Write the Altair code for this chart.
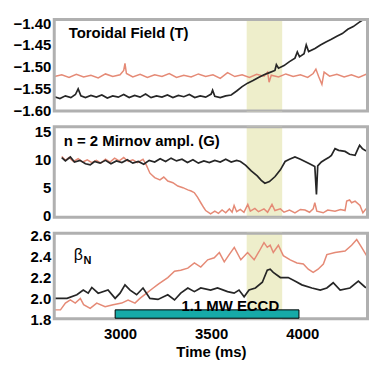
import altair as alt
import pandas as pd

FONT = "Liberation Sans"
X_DOMAIN = [2636, 4361]
W = 316

# ---------------- data ----------------
band_t = [3695, 3890]
eccd_t = [2973, 3982]
eccd_b = [1.81, 1.89]

bt_red_t = [2640, 2680, 2720, 2760, 2800, 2840, 2880, 2920, 2960, 3000, 3020, 3027, 3035, 3070, 3110,
            3150, 3190, 3230, 3270, 3310, 3350, 3390, 3430, 3470, 3510, 3550, 3590, 3630, 3670, 3710,
            3750, 3790, 3810, 3818, 3830, 3870, 3910, 3950, 3990, 4030, 4060, 4075, 4090, 4108, 4120,
            4150, 4190, 4230, 4270, 4310, 4350, 4380, 4395, 4404]
bt_red_v = [-1.522, -1.518, -1.524, -1.517, -1.523, -1.519, -1.525, -1.516, -1.522, -1.518, -1.508, -1.492,
            -1.515, -1.523, -1.517, -1.524, -1.518, -1.522, -1.515, -1.524, -1.519, -1.523, -1.516, -1.522,
            -1.518, -1.526, -1.513, -1.522, -1.518, -1.524, -1.517, -1.521, -1.512, -1.535, -1.519, -1.523,
            -1.516, -1.522, -1.518, -1.524, -1.515, -1.505, -1.522, -1.540, -1.512, -1.521, -1.517, -1.523,
            -1.518, -1.524, -1.517, -1.522, -1.510, -1.528]

bt_blk_t = [2640, 2670, 2700, 2730, 2755, 2770, 2785, 2810, 2840, 2870, 2900, 2930, 2960, 2990, 3020,
            3050, 3080, 3110, 3140, 3170, 3200, 3230, 3260, 3290, 3320, 3350, 3380, 3410, 3440, 3470,
            3500, 3508, 3520, 3550, 3580, 3610, 3640, 3670, 3700, 3730, 3760, 3790, 3820, 3850, 3858,
            3870, 3900, 3930, 3960, 3973, 3985, 4010, 4022, 4035, 4070, 4100, 4130, 4160, 4190, 4220,
            4250, 4280, 4310, 4335]
bt_blk_v = [-1.568, -1.572, -1.566, -1.570, -1.563, -1.550, -1.566, -1.570, -1.565, -1.569, -1.564, -1.571,
            -1.566, -1.569, -1.563, -1.570, -1.565, -1.569, -1.562, -1.570, -1.566, -1.569, -1.564, -1.570,
            -1.565, -1.568, -1.563, -1.570, -1.566, -1.569, -1.562, -1.553, -1.567, -1.570, -1.566, -1.564,
            -1.555, -1.545, -1.537, -1.531, -1.524, -1.518, -1.513, -1.508, -1.495, -1.503, -1.497, -1.488,
            -1.480, -1.466, -1.477, -1.470, -1.450, -1.465, -1.458, -1.450, -1.443, -1.437, -1.430, -1.424,
            -1.414, -1.408, -1.399, -1.392]

mir_blk_t = [2680, 2700, 2727, 2750, 2780, 2810, 2836, 2860, 2890, 2920, 2950, 2980, 3010, 3040, 3070,
             3100, 3130, 3160, 3190, 3220, 3250, 3280, 3310, 3340, 3370, 3400, 3430, 3460, 3490, 3520,
             3550, 3580, 3610, 3640, 3661, 3690, 3720, 3753, 3775, 3795, 3820, 3851, 3880, 3906, 3930,
             3960, 3990, 4015, 4040, 4069, 4078, 4085, 4105, 4124, 4145, 4160, 4180, 4200, 4235, 4260,
             4290, 4305, 4315, 4330, 4344, 4365, 4380, 4390, 4400]
mir_blk_v = [10.4, 9.8, 10.5, 9.6, 9.9, 9.3, 9.1, 9.7, 9.4, 9.9, 9.3, 9.8, 9.5, 10.0, 9.4,
             9.7, 9.2, 9.9, 9.6, 10.2, 9.7, 10.3, 9.8, 10.1, 9.5, 10.0, 9.4, 9.8, 9.5, 9.9,
             9.6, 10.1, 9.6, 9.9, 9.7, 9.0, 8.0, 7.1, 6.3, 5.8, 6.1, 7.0, 8.2, 9.7, 10.1,
             10.5, 10.1, 9.7, 9.3, 8.8, 3.8, 8.9, 9.6, 10.0, 10.4, 10.8, 12.0, 11.7, 11.5, 11.0,
             10.8, 11.9, 12.6, 12.0, 11.7, 11.4, 11.1, 10.2, 9.3]

mir_red_t = [2680, 2700, 2720, 2745, 2770, 2795, 2820, 2845, 2870, 2895, 2920, 2945, 2970, 2995, 3020,
             3045, 3070, 3095, 3126, 3145, 3164, 3190, 3219, 3240, 3262, 3290, 3317, 3345, 3372, 3390,
             3408, 3425, 3443, 3460, 3470, 3497, 3520, 3540, 3560, 3580, 3600, 3615, 3626, 3640, 3660,
             3680, 3701, 3715, 3740, 3760, 3790, 3810, 3834, 3850, 3880, 3900, 3930, 3960, 3990, 4015,
             4040, 4060, 4069, 4080, 4115, 4140, 4180, 4210, 4235, 4244, 4260, 4271, 4290, 4317, 4333,
             4350, 4380, 4400]
mir_red_v = [10.6, 9.9, 10.4, 9.7, 10.2, 9.6, 10.0, 9.5, 9.9, 9.4, 10.1, 9.6, 10.3, 9.8, 10.4,
             9.7, 10.0, 9.5, 10.1, 9.0, 7.6, 6.8, 6.4, 6.9, 6.2, 5.9, 5.3, 5.0, 4.6, 4.4,
             4.1, 3.3, 2.3, 1.4, 0.9, 0.3, 0.8, 0.4, 1.0, 0.5, 1.2, 0.6, 1.8, 0.7, 1.1,
             0.6, 2.0, 0.8, 1.3, 0.7, 1.2, 0.6, 2.0, 0.9, 1.2, 0.6, 1.0, 0.5, 1.1, 1.0,
             0.6, 1.2, 2.3, 0.8, 0.5, 1.0, 0.8, 1.1, 0.9, 2.6, 2.8, 2.3, 2.6, 1.8, 0.5,
             1.2, 1.4, 1.0]

beta_blk_t = [2636, 2709, 2763, 2798, 2825, 2845, 2880, 2934, 2973, 3000, 3027, 3055, 3091, 3126, 3164,
              3208, 3262, 3299, 3333, 3372, 3408, 3443, 3497, 3535, 3590, 3626, 3653, 3681, 3708, 3743,
              3781, 3808, 3824, 3841, 3880, 3923, 3962, 3998, 4053, 4099, 4135, 4170, 4208, 4262, 4308,
              4344, 4380, 4404]
beta_blk_v = [2.00, 2.00, 2.035, 2.08, 2.05, 2.105, 2.05, 2.08, 2.00, 2.05, 2.13, 2.08, 2.035, 2.10, 2.00,
              1.99, 2.035, 1.985, 2.05, 2.10, 2.065, 2.10, 2.08, 2.10, 2.065, 2.05, 2.08, 2.015, 2.08, 2.10,
              2.155, 2.27, 2.28, 2.25, 2.20, 2.20, 2.165, 2.13, 2.10, 2.08, 2.10, 2.15, 2.08, 2.10, 2.165,
              2.11, 2.08, 2.10]

beta_red_t = [2636, 2673, 2700, 2727, 2754, 2782, 2800, 2836, 2872, 2918, 2962, 3009, 3044, 3082, 3109,
              3146, 3182, 3212, 3262, 3299, 3333, 3372, 3408, 3443, 3481, 3517, 3545, 3572, 3599, 3627,
              3663, 3700, 3736, 3763, 3790, 3808, 3824, 3841, 3869, 3896, 3934, 3971, 4006, 4033, 4060,
              4087, 4116, 4135, 4180, 4235, 4271, 4299, 4326, 4353, 4380, 4404]
beta_red_v = [1.89, 1.89, 1.955, 1.985, 1.955, 2.00, 1.94, 1.905, 1.955, 1.92, 1.94, 1.955, 1.985, 1.955, 2.00,
              2.05, 2.10, 2.14, 2.20, 2.26, 2.27, 2.29, 2.34, 2.30, 2.37, 2.39, 2.44, 2.35, 2.42, 2.49,
              2.37, 2.44, 2.37, 2.45, 2.535, 2.49, 2.51, 2.44, 2.51, 2.41, 2.37, 2.34, 2.33, 2.28, 2.25,
              2.28, 2.33, 2.42, 2.44, 2.455, 2.51, 2.565, 2.49, 2.41, 2.36, 2.42]

# ---------------- styling ----------------
BLACK = "#262626"
RED = "#e58a76"
BAND = "#eeeecb"
TEAL = "#16aaa8"
FRAME = "#b0b0b0"

xax3 = alt.Axis(values=[3000, 3500, 4000], format="d", title="Time (ms)", domain=False,
                ticks=False, grid=False,
                labelFont=FONT, labelFontSize=15,
                labelFontWeight="bold", labelColor="black", labelPadding=7,
                titleFont=FONT, titleFontSize=15, titleFontWeight="bold",
                titleColor="black", titlePadding=3)


def xenc(field, axis):
    return alt.X(field, type="quantitative",
                 scale=alt.Scale(domain=X_DOMAIN, nice=False, zero=False),
                 axis=axis)


def yenc(field, ydom, yaxis):
    return alt.Y(field, type="quantitative",
                 scale=alt.Scale(domain=ydom, nice=False, zero=False), axis=yaxis)


def line(t, v, color, ydom, yaxis, xaxis, width=1.7):
    df = pd.DataFrame({"t": t, "v": v})
    return alt.Chart(df).mark_line(color=color, strokeWidth=width, clip=True).encode(
        x=xenc("t", xaxis), y=yenc("v", ydom, yaxis))


def band(h, xaxis):
    df = pd.DataFrame({"a": [band_t[0]], "b": [band_t[1]]})
    return alt.Chart(df).mark_rect(color=BAND).encode(
        x=xenc("a", xaxis), x2="b", y=alt.value(0), y2=alt.value(h))


def frame(h):
    return alt.Chart(pd.DataFrame({"k": [0]})).mark_rect(
        filled=False, color=FRAME, strokeWidth=2).encode(
        x=alt.value(1), x2=alt.value(W - 1), y=alt.value(1), y2=alt.value(h - 1))


def label(txt, px, py, size=15, weight="bold"):
    return alt.Chart(pd.DataFrame({"s": [txt]})).mark_text(
        align="left", baseline="middle", font=FONT, fontSize=size,
        fontWeight=weight, color="black").encode(
        text="s:N", x=alt.value(px), y=alt.value(py))


yax_common = dict(title=None, domain=False, ticks=False, grid=False, labelFont=FONT,
                  labelFontSize=15, labelFontWeight="bold", labelColor="black",
                  labelPadding=3, minExtent=45, maxExtent=45)

# Panel 1
H1 = 93
ax1 = alt.Axis(values=[-1.60, -1.55, -1.50, -1.45, -1.40], format=".2f", **yax_common)
d1 = [-1.6015, -1.3905]
p1 = alt.layer(
    band(H1, None),
    line(bt_red_t, bt_red_v, RED, d1, ax1, None, 1.5),
    line(bt_blk_t, bt_blk_v, BLACK, d1, ax1, None),
    frame(H1),
    label("Toroidal Field (T)", 15, 14),
).properties(width=W, height=H1)

# Panel 2
H2 = 92
ax2 = alt.Axis(values=[0, 5, 10, 15], format="d", **yax_common)
d2 = [-0.4, 16]
p2 = alt.layer(
    band(H2, None),
    line(mir_red_t, mir_red_v, RED, d2, ax2, None, 1.5),
    line(mir_blk_t, mir_blk_v, BLACK, d2, ax2, None),
    frame(H2),
    label("n = 2 Mirnov ampl. (G)", 10, 15),
).properties(width=W, height=H2)

# Panel 3
H3 = 87
ax3 = alt.Axis(values=[1.8, 2.0, 2.2, 2.4, 2.6], format=".1f", **yax_common)
d3 = [1.8, 2.63]

eccd_df = pd.DataFrame({"a": [eccd_t[0]], "b": [eccd_t[1]], "lo": [eccd_b[0]], "hi": [eccd_b[1]]})
eccd = alt.Chart(eccd_df).mark_rect(color=TEAL, stroke="black", strokeWidth=1).encode(
    x=xenc("a", xax3), x2="b", y=yenc("lo", d3, ax3), y2="hi")

eccd_lbl = alt.Chart(pd.DataFrame({"s": ["1.1 MW ECCD"], "t": [3605], "v": [1.877]})).mark_text(
    align="center", baseline="alphabetic", font=FONT, fontSize=15, fontWeight="bold",
    color="black").encode(text="s:N", x=xenc("t", xax3), y=yenc("v", d3, ax3))

p3 = alt.layer(
    band(H3, xax3),
    line(beta_red_t, beta_red_v, RED, d3, ax3, xax3, 1.5),
    line(beta_blk_t, beta_blk_v, BLACK, d3, ax3, xax3),
    frame(H3),
    eccd,
    eccd_lbl,
    label("β", 20, 22, size=16, weight="normal"),
    label("N", 30, 28, size=11, weight="bold"),
).properties(width=W, height=H3)

chart = alt.vconcat(p1, p2, p3, spacing=15, bounds="flush").properties(
    padding={"left": 0, "top": 6, "right": 0, "bottom": 0},
    background="white",
).configure_view(stroke=FRAME, strokeWidth=2)

chart.save("out.html", embed_options={"renderer": "svg", "actions": False})
